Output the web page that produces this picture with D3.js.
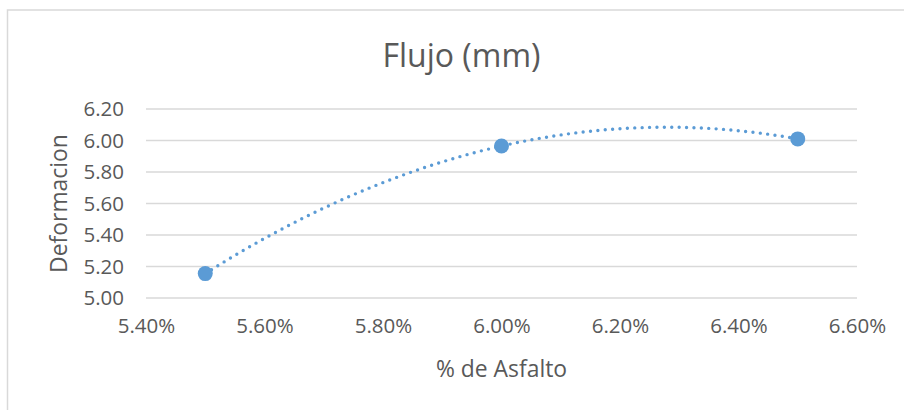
<!DOCTYPE html>
<html>
<head>
<meta charset="utf-8">
<script src="https://cdn.jsdelivr.net/npm/d3@7"></script>
<style>
  html, body { margin: 0; padding: 0; background: #fff; }
  svg { display: block; font-family: "Open Sans", sans-serif; }
</style>
</head>
<body>
<div id="chart"></div>
<script>
// ---- data ----
const asfalto = [0.055, 0.060, 0.065];          // % de Asfalto
const deformacion = [5.155, 5.965, 6.01];       // Deformacion (mm)
const xTicks = [0.054, 0.056, 0.058, 0.060, 0.062, 0.064, 0.066];
const yTicks = [5.00, 5.20, 5.40, 5.60, 5.80, 6.00, 6.20];
const titleText = "Flujo (mm)";
const xTitle = "% de Asfalto";
const yTitle = "Deformacion";

const W = 904, H = 410;
const margin = { left: 146, right: W - 857, top: 109, bottom: H - 298 };
const color = "#5B9BD5", textColor = "#595959", gridColor = "#D9D9D9";

const svg = d3.select("#chart").append("svg").attr("width", W).attr("height", H);

// chart border (extends beyond right/bottom edge)
svg.append("rect").attr("x", 7.5).attr("y", 10).attr("width", W + 20).attr("height", H + 20)
  .attr("fill", "none").attr("stroke", gridColor).attr("stroke-width", 1.5);

const x = d3.scaleLinear().domain([0.054, 0.066]).range([margin.left, W - margin.right]);
const y = d3.scaleLinear().domain([5.0, 6.2]).range([H - margin.bottom, margin.top]);

// gridlines
svg.append("g").selectAll("line").data(yTicks).join("line")
  .attr("x1", x.range()[0]).attr("x2", x.range()[1])
  .attr("y1", d => y(d)).attr("y2", d => y(d))
  .attr("stroke", gridColor).attr("stroke-width", 1.5);

// y axis labels
const yAxis = d3.axisLeft(y).tickValues(yTicks).tickFormat(d3.format(".2f")).tickSize(0).tickPadding(22);
const gy = svg.append("g").attr("transform", `translate(${margin.left},0)`).call(yAxis);
gy.select(".domain").remove();
gy.selectAll("text").attr("fill", textColor).style("font-size", "20.5px").style("font-family", "Open Sans");

// x axis labels
const xAxis = d3.axisBottom(x).tickValues(xTicks).tickFormat(d3.format(".2%")).tickSize(0).tickPadding(20);
const gx = svg.append("g").attr("transform", `translate(0,${H - margin.bottom})`).call(xAxis);
gx.select(".domain").remove();
gx.selectAll("text").attr("fill", textColor).style("font-size", "20.5px").style("font-family", "Open Sans");

// polynomial (order 2) trendline via least squares
function polyfit2(xs, ys) {
  const n = xs.length;
  let s = [0,0,0,0,0], t = [0,0,0];
  for (let i = 0; i < n; i++) {
    const xi = xs[i];
    for (let k = 0; k <= 4; k++) s[k] += Math.pow(xi, k);
    for (let k = 0; k <= 2; k++) t[k] += ys[i] * Math.pow(xi, k);
  }
  const A = [[s[0], s[1], s[2]], [s[1], s[2], s[3]], [s[2], s[3], s[4]]];
  const b = t.slice();
  for (let i = 0; i < 3; i++) {
    let p = i;
    for (let r = i + 1; r < 3; r++) if (Math.abs(A[r][i]) > Math.abs(A[p][i])) p = r;
    [A[i], A[p]] = [A[p], A[i]]; [b[i], b[p]] = [b[p], b[i]];
    for (let r = i + 1; r < 3; r++) {
      const f = A[r][i] / A[i][i];
      for (let c = i; c < 3; c++) A[r][c] -= f * A[i][c];
      b[r] -= f * b[i];
    }
  }
  const c = [0,0,0];
  for (let i = 2; i >= 0; i--) {
    let sum = b[i];
    for (let k = i + 1; k < 3; k++) sum -= A[i][k] * c[k];
    c[i] = sum / A[i][i];
  }
  return c;
}
const xm = d3.mean(asfalto);
const coef = polyfit2(asfalto.map(v => (v - xm) * 100), deformacion);
const fx = v => { const u = (v - xm) * 100; return coef[0] + coef[1] * u + coef[2] * u * u; };
const xs = d3.range(0, 201).map(i => asfalto[0] + (asfalto[2] - asfalto[0]) * i / 200);
svg.append("path").datum(xs)
  .attr("d", d3.line().x(d => x(d)).y(d => y(fx(d))))
  .attr("fill", "none").attr("stroke", color).attr("stroke-width", 3.4)
  .attr("stroke-linecap", "round").attr("stroke-dasharray", "0 7.4");

// markers
svg.append("g").selectAll("circle").data(asfalto).join("circle")
  .attr("cx", d => x(d)).attr("cy", (d, i) => y(deformacion[i])).attr("r", 7.5)
  .attr("fill", color);

// title
svg.append("text").attr("x", 461.5).attr("y", 67).attr("text-anchor", "middle")
  .attr("fill", textColor).style("font-size", "32px").text(titleText);

// axis titles
svg.append("text").attr("x", (x.range()[0] + x.range()[1]) / 2).attr("y", 377).attr("text-anchor", "middle")
  .attr("fill", textColor).style("font-size", "22.9px").text(xTitle);
svg.append("text").attr("transform", `translate(67,${(y.range()[0] + y.range()[1]) / 2}) rotate(-90)`)
  .attr("text-anchor", "middle").attr("fill", textColor).style("font-size", "22.9px").text(yTitle);
</script>
</body>
</html>
